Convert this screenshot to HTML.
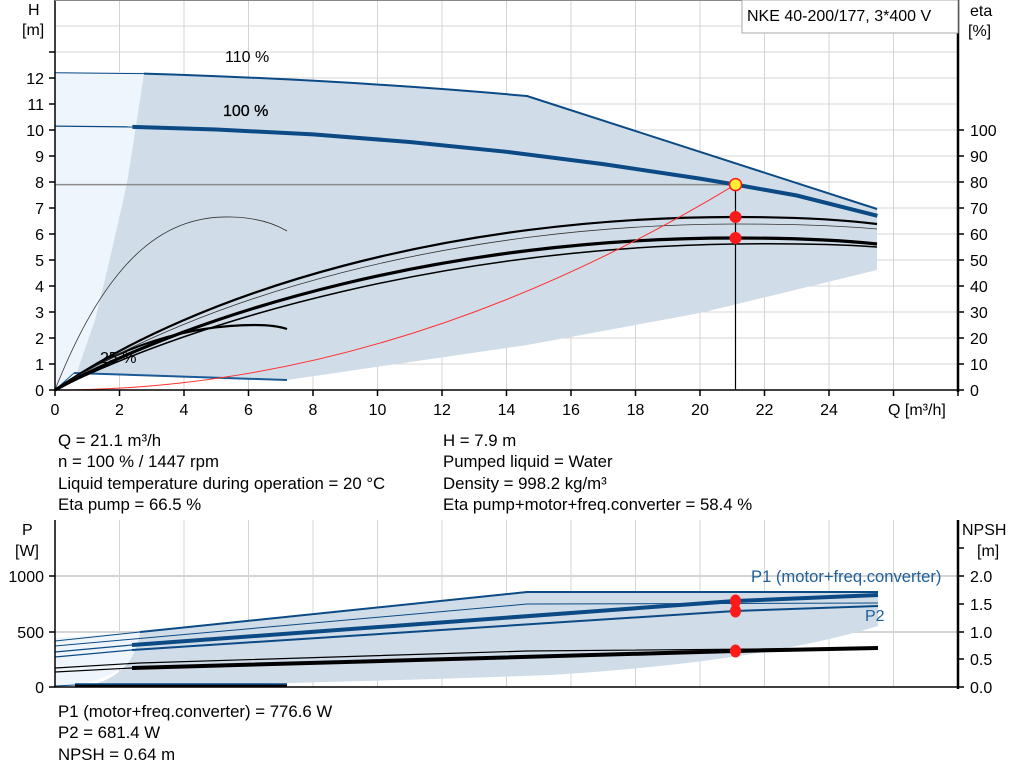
<!DOCTYPE html>
<html><head><meta charset="utf-8"><style>
body{margin:0;background:#fff;width:1024px;height:781px;overflow:hidden}
svg{display:block;font-family:"Liberation Sans",Arial,sans-serif}
</style></head><body>
<svg width="1024" height="781" viewBox="0 0 1024 781" xmlns="http://www.w3.org/2000/svg">
<g stroke="#d4d4d4" stroke-width="1">
<path d="M119.5,0V390M184,0V390M248.5,0V390M313,0V390M377.5,0V390M442,0V390M506.5,0V390M571,0V390M635.5,0V390M700,0V390M764.5,0V390M829,0V390M893.5,0V390"/>
<path d="M55,364H958M55,338H958M55,312H958M55,286H958M55,260H958M55,234H958M55,208H958M55,182H958M55,156H958M55,130H958M55,104H958M55,78H958M55,52H958M55,26H958"/>
</g>
<path d="M55,72 L144,72 Q137,120 127,183 Q110,260 95,320 L77,372 L62,390 L55,390 Z" fill="#eef5fc"/>
<path d="M144,73 Q137,120 127,183 Q110,260 95,320 L77,372 L75,373 L287,380 L527,345 L700,313 L877,270 L877,209 L527,96 Q350,80 144,73 Z" fill="#d0dce7"/>
<path d="M55,184.6H735" stroke="#8c8c8c" stroke-width="1.5"/>
<path d="M55,72.8 L144,73.6" stroke="#0b4a85" stroke-width="1" fill="none"/>
<path d="M144,73.6 Q350,80 527,96 L877,209" stroke="#0b4a85" stroke-width="2" fill="none"/>
<path d="M55,126.1 L132.4,126.9" stroke="#0b4a85" stroke-width="1.2" fill="none"/>
<polyline points="132.4,126.9 216.3,129.5 313,134.4 409.8,142 506.5,151.8 603.3,164.1 700,178.6 735.5,184.6 796.8,195.5 877.4,215.8" stroke="#0b4a85" stroke-width="4" fill="none"/>
<path d="M74,373 L287,380" stroke="#1a5a96" stroke-width="2" fill="none"/>
<path d="M55,390 L74,373" stroke="#1a5a96" stroke-width="1" fill="none"/>
<path d="M55,390 C110,250 170,215 232,217 Q265,218 287,231" stroke="#333" stroke-width="0.8" fill="none"/>
<path d="M55,390 C120,345 190,325 255,325 Q275,325 287,329" stroke="#000" stroke-width="2.2" fill="none"/>
<path d="M55,390 C200,290 450,217 735,217 Q820,217 877,224" stroke="#000" stroke-width="2.2" fill="none"/>
<path d="M55,390 C200,297 450,225 735,224 Q820,224 877,229" stroke="#333" stroke-width="0.8" fill="none"/>
<path d="M55,390 C200,310 450,238 735,238 Q820,238 877,244" stroke="#000" stroke-width="3.2" fill="none"/>
<path d="M55,390 C200,318 450,248 735,244 Q820,243 877,247" stroke="#000" stroke-width="1.5" fill="none"/>
<path d="M55,390 Q395,390 735.5,184.6" stroke="#ff3030" stroke-width="1" fill="none"/>
<path d="M735.5,184V390" stroke="#000" stroke-width="1.2"/>
<circle cx="735.5" cy="217" r="6" fill="#ff1a1a"/>
<circle cx="735.5" cy="238" r="6" fill="#ff1a1a"/>
<circle cx="735.5" cy="184.6" r="6" fill="#ffee33" stroke="#ff1a1a" stroke-width="1.5"/>
<path d="M55,0V390H958" stroke="#000" stroke-width="1.5" fill="none"/>
<path d="M958,0V392" stroke="#000" stroke-width="2.5"/>
<path d="M55,0.5H958" stroke="#888" stroke-width="1"/>
<g stroke="#000" stroke-width="1.5">
<path d="M49,390H55M49,364H55M49,338H55M49,312H55M49,286H55M49,260H55M49,234H55M49,208H55M49,182H55M49,156H55M49,130H55M49,104H55M49,78H55M49,52H55"/>
<path d="M958,390H964M958,364H964M958,338H964M958,312H964M958,286H964M958,260H964M958,234H964M958,208H964M958,182H964M958,156H964M958,130H964"/>
<path d="M55,390V396M119.5,390V396M184,390V396M248.5,390V396M313,390V396M377.5,390V396M442,390V396M506.5,390V396M571,390V396M635.5,390V396M700,390V396M764.5,390V396M829,390V396M893.5,390V396M958,390V396"/>
</g>
<g font-size="16" fill="#000">
<g text-anchor="end">
<text x="44" y="396">0</text><text x="44" y="370">1</text><text x="44" y="344">2</text><text x="44" y="318">3</text><text x="44" y="292">4</text><text x="44" y="266">5</text><text x="44" y="240">6</text><text x="44" y="214">7</text><text x="44" y="188">8</text><text x="44" y="162">9</text><text x="44" y="136">10</text><text x="44" y="110">11</text><text x="44" y="84">12</text>
</g>
<g>
<text x="970" y="396">0</text><text x="970" y="370">10</text><text x="970" y="344">20</text><text x="970" y="318">30</text><text x="970" y="292">40</text><text x="970" y="266">50</text><text x="970" y="240">60</text><text x="970" y="214">70</text><text x="970" y="188">80</text><text x="970" y="162">90</text><text x="970" y="136">100</text>
</g>
<g text-anchor="middle">
<text x="55" y="415">0</text><text x="119.5" y="415">2</text><text x="184" y="415">4</text><text x="248.5" y="415">6</text><text x="313" y="415">8</text><text x="377.5" y="415">10</text><text x="442" y="415">12</text><text x="506.5" y="415">14</text><text x="571" y="415">16</text><text x="635.5" y="415">18</text><text x="700" y="415">20</text><text x="764.5" y="415">22</text><text x="829" y="415">24</text>
</g>
<text x="888" y="415">Q [m³/h]</text>
<text x="28" y="15">H</text><text x="22" y="35">[m]</text>
<text x="970" y="16">eta</text><text x="968" y="36">[%]</text>
<text x="225" y="62">110 %</text>
<text x="223" y="116" stroke="#000" stroke-width="0.3">100 %</text>
<text x="100" y="363">25 %</text>
</g>
<rect x="742" y="0" width="216" height="33" fill="#fff" stroke="#aaa" stroke-width="1"/>
<text x="747" y="21" font-size="16">NKE 40-200/177, 3*400 V</text>
<g font-size="16.8" fill="#000">
<text x="58" y="446">Q = 21.1 m³/h</text>
<text x="58" y="467">n = 100 % / 1447 rpm</text>
<text x="58" y="489">Liquid temperature during operation = 20 °C</text>
<text x="58" y="510">Eta pump = 66.5 %</text>
<text x="443" y="446">H = 7.9 m</text>
<text x="443" y="467">Pumped liquid = Water</text>
<text x="443" y="489">Density = 998.2 kg/m³</text>
<text x="443" y="510">Eta pump+motor+freq.converter = 58.4 %</text>
</g>
<g stroke="#d4d4d4" stroke-width="1">
<path d="M119.5,520V687M184,520V687M248.5,520V687M313,520V687M377.5,520V687M442,520V687M506.5,520V687M571,520V687M635.5,520V687M700,520V687M764.5,520V687M829,520V687M893.5,520V687"/>
<path d="M55,576H958M55,632H958" stroke-width="2"/>
</g>
<path d="M55,638 L140,632 Q140,645 133,655 Q115,682 60,687 L55,687 Z" fill="#eef5fc"/>
<path d="M140,632 L527,592 L878,592 L878,626 Q760,662 551,675 Q300,684 80,687 Q118,682 133,655 Q138,645 140,632 Z" fill="#d0dce7"/>
<path d="M55,641 L140,632" stroke="#0b4a85" stroke-width="1" fill="none"/>
<path d="M140,632 L527,592 L878,592" stroke="#0b4a85" stroke-width="2" fill="none"/>
<path d="M55,646 L527,604 L878,603" stroke="#0b4a85" stroke-width="1" fill="none"/>
<path d="M55,652 L132,645" stroke="#0b4a85" stroke-width="1.2" fill="none"/>
<path d="M132,645 L735,601 L878,595" stroke="#0b4a85" stroke-width="4" fill="none"/>
<path d="M55,657 L132,650" stroke="#0b4a85" stroke-width="1.2" fill="none"/>
<path d="M132,650 L735,611 L878,606" stroke="#0b4a85" stroke-width="2" fill="none"/>
<path d="M55,668 L140,663 L527,651 L878,648" stroke="#000" stroke-width="1.2" fill="none"/>
<path d="M55,672 L132,668" stroke="#000" stroke-width="1.2" fill="none"/>
<path d="M132,668 L735,651 L878,648" stroke="#000" stroke-width="4" fill="none"/>
<path d="M75,685 L287,685" stroke="#000" stroke-width="3" fill="none"/>
<path d="M75,684 L287,684" stroke="#0b4a85" stroke-width="1.5" fill="none"/>
<path d="M55,686 L75,685" stroke="#0b4a85" stroke-width="1" fill="none"/>
<ellipse cx="735.5" cy="601" rx="5.5" ry="6.5" fill="#ff1a1a"/>
<ellipse cx="735.5" cy="611" rx="5.5" ry="6.5" fill="#ff1a1a"/>
<ellipse cx="735.5" cy="651" rx="5.5" ry="6.5" fill="#ff1a1a"/>
<path d="M55,520V687H958" stroke="#000" stroke-width="1.5" fill="none"/>
<path d="M958,520V689" stroke="#000" stroke-width="2.5"/>
<g stroke="#000" stroke-width="1.5">
<path d="M49,687H55M49,632H55M49,576H55"/>
<path d="M958,687H964M958,659H964M958,632H964M958,604H964M958,576H964M958,548H964"/>
</g>
<g font-size="16" fill="#000">
<g text-anchor="end"><text x="44" y="693">0</text><text x="44" y="638">500</text><text x="44" y="582">1000</text></g>
<text x="970" y="693">0.0</text><text x="970" y="665">0.5</text><text x="970" y="638">1.0</text><text x="970" y="610">1.5</text><text x="970" y="582">2.0</text>
<text x="22" y="535">P</text><text x="15" y="556">[W]</text>
<text x="962" y="535">NPSH</text><text x="977" y="556">[m]</text>
<text x="751" y="582" fill="#1f5f9a" font-size="16.6">P1 (motor+freq.converter)</text>
<text x="865" y="621" fill="#1f5f9a">P2</text>
</g>
<g font-size="16.8" fill="#000">
<text x="58" y="717">P1 (motor+freq.converter) = 776.6 W</text>
<text x="58" y="738">P2 = 681.4 W</text>
<text x="58" y="760">NPSH = 0.64 m</text>
</g>
</svg>
</body></html>
